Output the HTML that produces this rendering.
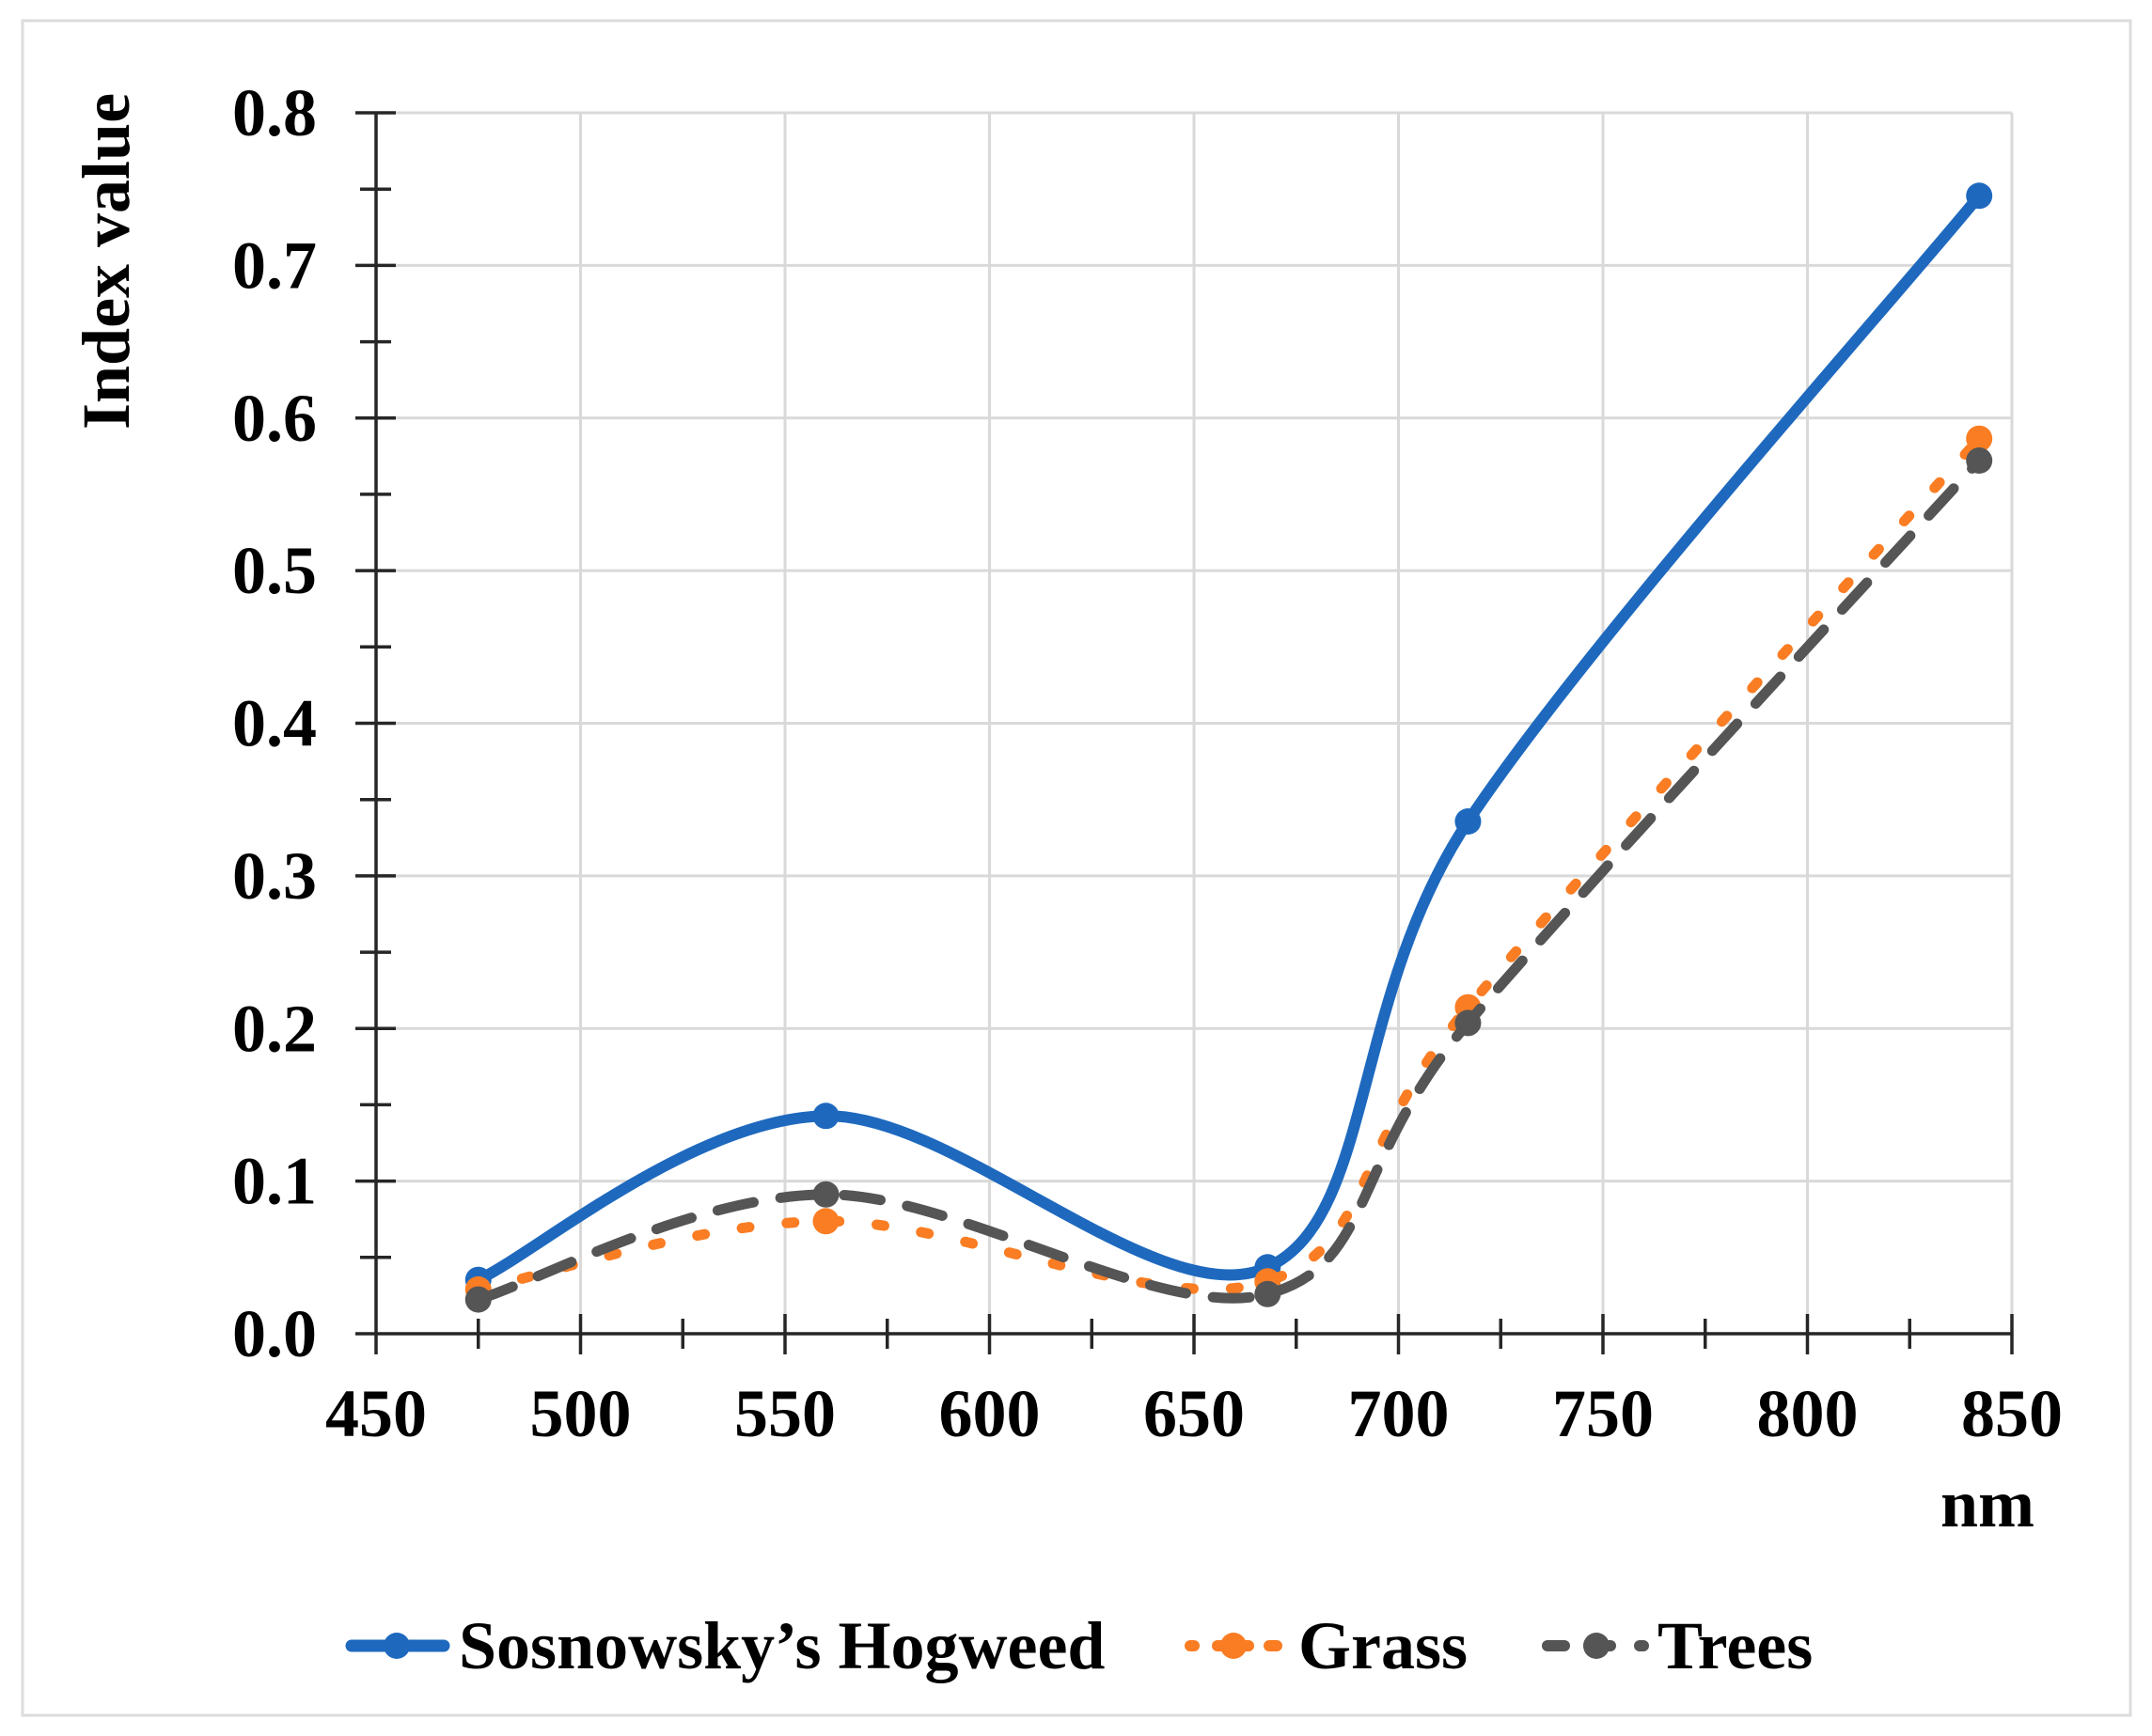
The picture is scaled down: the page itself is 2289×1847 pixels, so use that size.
<!DOCTYPE html>
<html>
<head>
<meta charset="utf-8">
<style>
html,body{margin:0;padding:0;background:#fff;}
svg{display:block;}
text{font-family:"Liberation Serif","Times New Roman",serif;font-weight:bold;fill:#000;}
</style>
</head>
<body>
<svg width="2289" height="1847" viewBox="0 0 2289 1847" xmlns="http://www.w3.org/2000/svg">
<rect x="0" y="0" width="2289" height="1847" fill="#fff"/>
<rect x="24" y="22" width="2242" height="1803" fill="none" stroke="#dcdcdc" stroke-width="3"/>

<!-- gridlines -->
<g stroke="#d9d9d9" stroke-width="3">
<line x1="400" y1="1256.6" x2="2140" y2="1256.6"/>
<line x1="400" y1="1094.3" x2="2140" y2="1094.3"/>
<line x1="400" y1="931.9" x2="2140" y2="931.9"/>
<line x1="400" y1="769.5" x2="2140" y2="769.5"/>
<line x1="400" y1="607.1" x2="2140" y2="607.1"/>
<line x1="400" y1="444.8" x2="2140" y2="444.8"/>
<line x1="400" y1="282.4" x2="2140" y2="282.4"/>
<line x1="400" y1="120" x2="2140" y2="120"/>
<line x1="617.5" y1="120" x2="617.5" y2="1419"/>
<line x1="835" y1="120" x2="835" y2="1419"/>
<line x1="1052.5" y1="120" x2="1052.5" y2="1419"/>
<line x1="1270" y1="120" x2="1270" y2="1419"/>
<line x1="1487.5" y1="120" x2="1487.5" y2="1419"/>
<line x1="1705" y1="120" x2="1705" y2="1419"/>
<line x1="1922.5" y1="120" x2="1922.5" y2="1419"/>
<line x1="2140" y1="120" x2="2140" y2="1419"/>
</g>

<!-- axes -->
<g stroke="#262626" stroke-width="3.5">
<line x1="400" y1="119" x2="400" y2="1441"/>
<line x1="378" y1="1419" x2="2140" y2="1419"/>
<line x1="378" y1="1256.6" x2="421" y2="1256.6"/>
<line x1="378" y1="1094.3" x2="421" y2="1094.3"/>
<line x1="378" y1="931.9" x2="421" y2="931.9"/>
<line x1="378" y1="769.5" x2="421" y2="769.5"/>
<line x1="378" y1="607.1" x2="421" y2="607.1"/>
<line x1="378" y1="444.8" x2="421" y2="444.8"/>
<line x1="378" y1="282.4" x2="421" y2="282.4"/>
<line x1="378" y1="120" x2="421" y2="120"/>
<line x1="383" y1="1337.8" x2="416" y2="1337.8"/>
<line x1="383" y1="1175.4" x2="416" y2="1175.4"/>
<line x1="383" y1="1013.1" x2="416" y2="1013.1"/>
<line x1="383" y1="850.7" x2="416" y2="850.7"/>
<line x1="383" y1="688.3" x2="416" y2="688.3"/>
<line x1="383" y1="525.9" x2="416" y2="525.9"/>
<line x1="383" y1="363.6" x2="416" y2="363.6"/>
<line x1="383" y1="201.2" x2="416" y2="201.2"/>
<line x1="617.5" y1="1398" x2="617.5" y2="1441"/>
<line x1="835" y1="1398" x2="835" y2="1441"/>
<line x1="1052.5" y1="1398" x2="1052.5" y2="1441"/>
<line x1="1270" y1="1398" x2="1270" y2="1441"/>
<line x1="1487.5" y1="1398" x2="1487.5" y2="1441"/>
<line x1="1705" y1="1398" x2="1705" y2="1441"/>
<line x1="1922.5" y1="1398" x2="1922.5" y2="1441"/>
<line x1="2140" y1="1398" x2="2140" y2="1441"/>
<line x1="508.75" y1="1403" x2="508.75" y2="1435"/>
<line x1="726.25" y1="1403" x2="726.25" y2="1435"/>
<line x1="943.75" y1="1403" x2="943.75" y2="1435"/>
<line x1="1161.25" y1="1403" x2="1161.25" y2="1435"/>
<line x1="1378.75" y1="1403" x2="1378.75" y2="1435"/>
<line x1="1596.25" y1="1403" x2="1596.25" y2="1435"/>
<line x1="1813.75" y1="1403" x2="1813.75" y2="1435"/>
<line x1="2031.25" y1="1403" x2="2031.25" y2="1435"/>
</g>

<!-- y labels -->
<g font-size="72" text-anchor="end">
<text x="337" y="1443">0.0</text>
<text x="337" y="1280.6">0.1</text>
<text x="337" y="1118.3">0.2</text>
<text x="337" y="955.9">0.3</text>
<text x="337" y="793.5">0.4</text>
<text x="337" y="631.1">0.5</text>
<text x="337" y="468.8">0.6</text>
<text x="337" y="306.4">0.7</text>
<text x="337" y="144">0.8</text>
</g>

<!-- x labels -->
<g font-size="72" text-anchor="middle">
<text x="400" y="1528">450</text>
<text x="617.5" y="1528">500</text>
<text x="835" y="1528">550</text>
<text x="1052.5" y="1528">600</text>
<text x="1270" y="1528">650</text>
<text x="1487.5" y="1528">700</text>
<text x="1705" y="1528">750</text>
<text x="1922.5" y="1528">800</text>
<text x="2140" y="1528">850</text>
</g>
<text x="2164" y="1624" font-size="72" text-anchor="end">nm</text>
<text transform="translate(137,278) rotate(-90)" font-size="72" text-anchor="middle">Index value</text>

<!-- Hogweed series -->
<path d="M508.75,1361.7 C570.38,1332.63 738.57,1189.53 878.5,1187.3 C1018.43,1185.07 1234.47,1400.52 1348.3,1348.3 C1462.13,1296.08 1435.3,1064 1561.45,874 C1687.6,684 2014.57,319.25 2105.2,208.3" fill="none" stroke="#1e69be" stroke-width="12" stroke-linejoin="round" stroke-linecap="round"/>
<g fill="#1e69be">
<circle cx="508.75" cy="1361.7" r="14"/>
<circle cx="878.5" cy="1187.3" r="14"/>
<circle cx="1348.3" cy="1348.3" r="14"/>
<circle cx="1561.45" cy="874" r="14"/>
<circle cx="2105.2" cy="208.3" r="14"/>
</g>

<!-- Grass series -->
<path d="M508.75,1371.9 C570.38,1359.8 738.57,1300.73 878.5,1299.3 C1018.43,1297.87 1234.47,1401.23 1348.3,1363.3 C1462.13,1325.37 1435.3,1221.13 1561.45,1071.7 C1687.6,922.27 2014.57,567.53 2105.2,466.7" fill="none" stroke="#fa7d23" stroke-width="11" stroke-linecap="round" stroke-dasharray="8 40"/>
<g fill="#fa7d23">
<circle cx="508.75" cy="1371.9" r="14"/>
<circle cx="878.5" cy="1299.3" r="14"/>
<circle cx="1348.3" cy="1363.3" r="14"/>
<circle cx="1561.45" cy="1071.7" r="14"/>
<circle cx="2105.2" cy="466.7" r="14"/>
</g>

<!-- Trees series -->
<path d="M508.75,1382.6 C570.38,1363.97 738.57,1271.77 878.5,1270.8 C1018.43,1269.83 1234.47,1407.2 1348.3,1376.8 C1462.13,1346.4 1435.3,1236.2 1561.45,1088.4 C1687.6,940.6 2014.57,589.73 2105.2,490" fill="none" stroke="#555555" stroke-width="11" stroke-linecap="round" stroke-dasharray="39 29"/>
<g fill="#555555">
<circle cx="508.75" cy="1382.6" r="14"/>
<circle cx="878.5" cy="1270.8" r="14"/>
<circle cx="1348.3" cy="1376.8" r="14"/>
<circle cx="1561.45" cy="1088.4" r="14"/>
<circle cx="2105.2" cy="490" r="14"/>
</g>

<!-- Legend -->
<g stroke-linecap="round">
<line x1="374" y1="1751" x2="472" y2="1751" stroke="#1e69be" stroke-width="13"/>
<circle cx="422" cy="1751" r="14" fill="#1e69be"/>

<line x1="1266" y1="1751" x2="1270" y2="1751" stroke="#fa7d23" stroke-width="12"/>
<line x1="1295" y1="1751" x2="1328" y2="1751" stroke="#fa7d23" stroke-width="12"/>
<line x1="1350" y1="1751" x2="1358" y2="1751" stroke="#fa7d23" stroke-width="12"/>
<circle cx="1312" cy="1751" r="14" fill="#fa7d23"/>

<line x1="1646" y1="1751" x2="1664" y2="1751" stroke="#555555" stroke-width="12"/>
<line x1="1690" y1="1751" x2="1713" y2="1751" stroke="#555555" stroke-width="12"/>
<line x1="1744" y1="1751" x2="1748" y2="1751" stroke="#555555" stroke-width="12"/>
<circle cx="1698" cy="1751" r="14" fill="#555555"/>
</g>
<g font-size="72">
<text x="488" y="1775">Sosnowsky’s Hogweed</text>
<text x="1381" y="1775">Grass</text>
<text x="1763" y="1775">Trees</text>
</g>
</svg>
</body>
</html>
